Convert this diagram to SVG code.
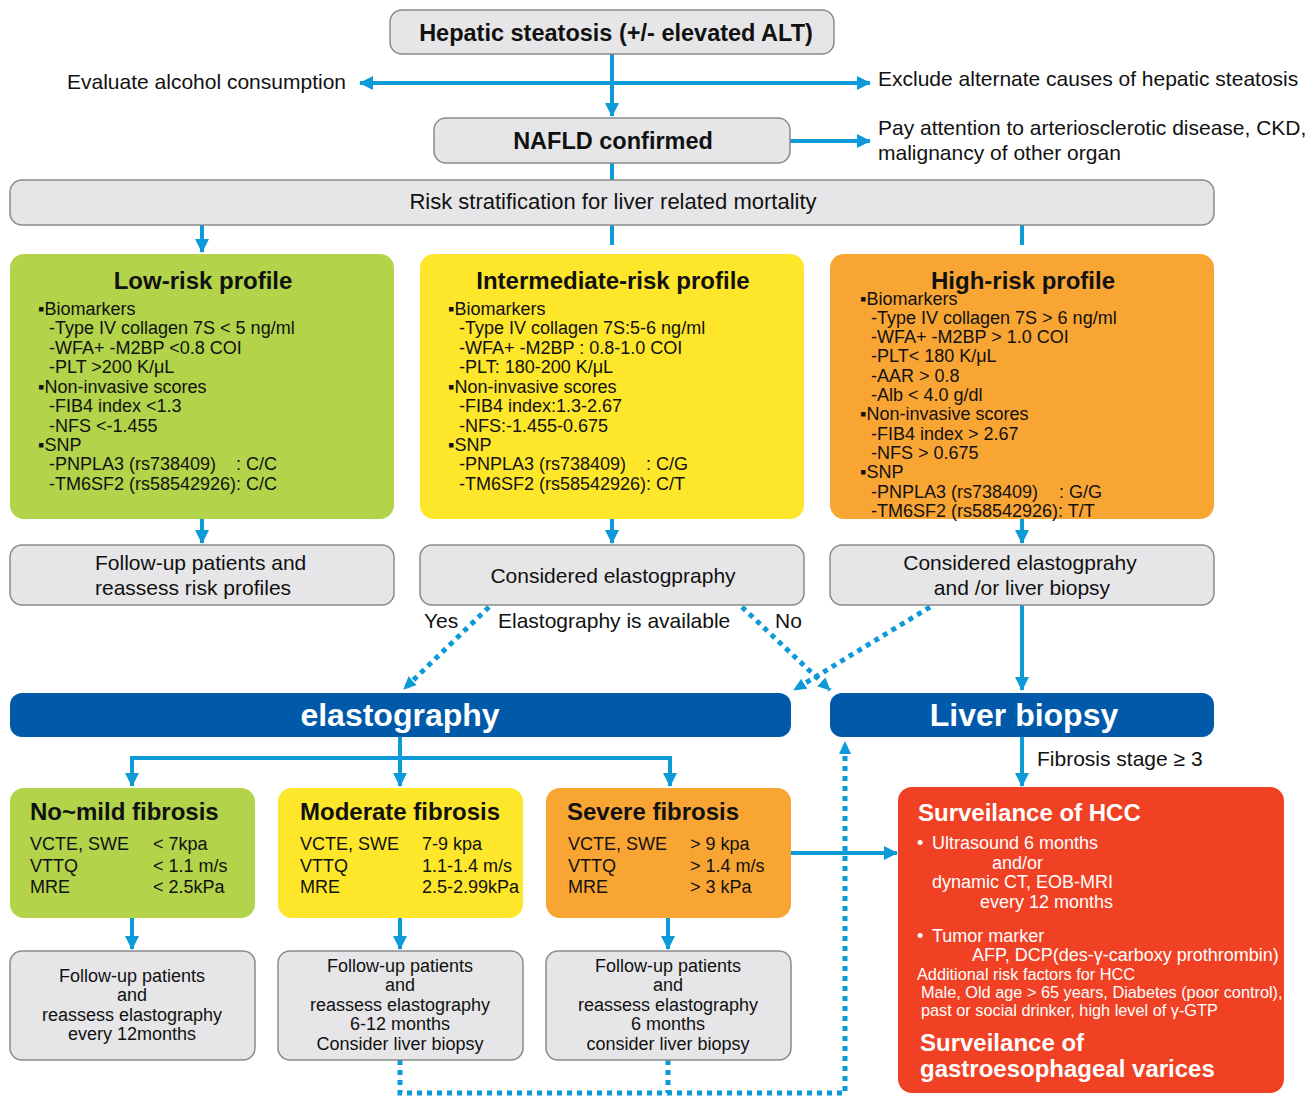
<svg xmlns="http://www.w3.org/2000/svg" width="1314" height="1096" viewBox="0 0 1314 1096">
<style>
text{font-family:"Liberation Sans",Arial,sans-serif;fill:#111}
.gbox{fill:#e6e6e8;stroke:#8a8a8a;stroke-width:1.5}
.t24b{font-size:24px;font-weight:bold}
.t21{font-size:21px}
.t18{font-size:18px}
.wh{fill:#fff}
.ln{stroke:#0d9ad8;stroke-width:4;fill:none}
.dt{stroke:#0d9ad8;stroke-width:5;fill:none;stroke-dasharray:5 5}
.mid{text-anchor:middle}
.big{font-size:32px;font-weight:bold;fill:#fff}
</style>
<defs>
<marker id="arr" markerUnits="userSpaceOnUse" markerWidth="16" markerHeight="16" refX="13" refY="8" orient="auto-start-reverse" viewBox="0 0 16 16">
<path d="M0,1 L14,8 L0,15 z" fill="#0d9ad8"/>
</marker>
<marker id="arrs" markerUnits="userSpaceOnUse" markerWidth="14" markerHeight="14" refX="12" refY="7" orient="auto" viewBox="0 0 14 14">
<path d="M0,1 L13,7 L0,13 z" fill="#0d9ad8"/>
</marker>
</defs>
<rect width="1314" height="1096" fill="#fff"/>

<g id="connectors">
<path class="ln" d="M612,54 V116" marker-end="url(#arr)"/>
<path class="ln" d="M360,83 H870" marker-start="url(#arr)" marker-end="url(#arr)"/>
<path class="ln" d="M790,141 H870" marker-end="url(#arr)"/>
<path class="ln" d="M612,163 V180"/>
<path class="ln" d="M202,225 V252" marker-end="url(#arr)"/>
<path class="ln" d="M612,225 V245"/>
<path class="ln" d="M1022,225 V245"/>
<path class="ln" d="M202,519 V543" marker-end="url(#arr)"/>
<path class="ln" d="M612,519 V543" marker-end="url(#arr)"/>
<path class="ln" d="M1022,519 V543" marker-end="url(#arr)"/>
<path class="dt" d="M489,607 L404,689" marker-end="url(#arrs)"/>
<path class="dt" d="M742,607 L830,690" marker-end="url(#arrs)"/>
<path class="dt" d="M930,607 L794,690" marker-end="url(#arrs)"/>
<path class="ln" d="M1022,605 V690" marker-end="url(#arr)"/>
<path class="ln" d="M400,737 V786" marker-end="url(#arr)"/>
<path class="ln" d="M132,786 V758 H670 V786" marker-end="url(#arr)"/>
<path class="ln" d="M132,758 V786" marker-end="url(#arr)"/>
<path class="ln" d="M1022,737 V786" marker-end="url(#arr)"/>
<path class="ln" d="M791,853 H897" marker-end="url(#arr)"/>
<path class="ln" d="M132,918 V949" marker-end="url(#arr)"/>
<path class="ln" d="M400,918 V949" marker-end="url(#arr)"/>
<path class="ln" d="M668,918 V949" marker-end="url(#arr)"/>
<path class="dt" d="M400,1060 V1093 H845 V742" marker-end="url(#arrs)"/>
<path class="dt" d="M668,1060 V1093"/>
</g>

<g id="n-hepatic">
<rect class="gbox" x="390" y="10" width="444" height="44" rx="12"/>
<text class="mid" x="616" y="41" style="font-size:23.5px;font-weight:bold">Hepatic steatosis (+/- elevated ALT)</text>
</g>
<g id="n-alcohol"><text class="t21" x="346" y="89" text-anchor="end">Evaluate alcohol consumption</text></g>
<g id="n-exclude"><text class="t21" x="878" y="86">Exclude alternate causes of hepatic steatosis</text></g>
<g id="n-nafld">
<rect class="gbox" x="434" y="118" width="356" height="45" rx="12"/>
<text class="mid" x="613" y="149" style="font-size:23.5px;font-weight:bold">NAFLD confirmed</text>
</g>
<g id="n-attention">
<text class="t21" x="878" y="135">Pay attention to arteriosclerotic disease, CKD,</text>
<text class="t21" x="878" y="160">malignancy of other organ</text>
</g>
<g id="n-risk">
<rect class="gbox" x="10" y="180" width="1204" height="45" rx="12"/>
<text class="mid" x="613" y="209" style="font-size:22px">Risk stratification for liver related mortality</text>
</g>

<g id="n-low">
<rect x="10" y="254" width="384" height="265" rx="14" fill="#b2d34a"/>
<text class="t24b mid" x="203" y="289">Low-risk profile</text>
<text class="t18">
<tspan x="38" y="315">▪Biomarkers</tspan>
<tspan x="49" y="334">-Type IV collagen 7S &lt; 5 ng/ml</tspan>
<tspan x="49" y="354">-WFA+ -M2BP &lt;0.8 COI</tspan>
<tspan x="49" y="373">-PLT &gt;200 K/μL</tspan>
<tspan x="38" y="393">▪Non-invasive scores</tspan>
<tspan x="49" y="412">-FIB4 index &lt;1.3</tspan>
<tspan x="49" y="432">-NFS &lt;-1.455</tspan>
<tspan x="38" y="451">▪SNP</tspan>
<tspan x="49" y="470">-PNPLA3 (rs738409)</tspan><tspan x="236" y="470">: C/C</tspan>
<tspan x="49" y="490">-TM6SF2 (rs58542926): C/C</tspan>
</text>
</g>

<g id="n-inter">
<rect x="420" y="254" width="384" height="265" rx="14" fill="#fee62a"/>
<text class="t24b mid" x="613" y="289">Intermediate-risk profile</text>
<text class="t18">
<tspan x="448" y="315">▪Biomarkers</tspan>
<tspan x="459" y="334">-Type IV collagen 7S:5-6 ng/ml</tspan>
<tspan x="459" y="354">-WFA+ -M2BP : 0.8-1.0 COI</tspan>
<tspan x="459" y="373">-PLT: 180-200 K/μL</tspan>
<tspan x="448" y="393">▪Non-invasive scores</tspan>
<tspan x="459" y="412">-FIB4 index:1.3-2.67</tspan>
<tspan x="459" y="432">-NFS:-1.455-0.675</tspan>
<tspan x="448" y="451">▪SNP</tspan>
<tspan x="459" y="470">-PNPLA3 (rs738409)</tspan><tspan x="646" y="470">: C/G</tspan>
<tspan x="459" y="490">-TM6SF2 (rs58542926): C/T</tspan>
</text>
</g>

<g id="n-high">
<rect x="830" y="254" width="384" height="265" rx="14" fill="#f9a534"/>
<text class="t24b mid" x="1023" y="289">High-risk profile</text>
<text class="t18">
<tspan x="860" y="305">▪Biomarkers</tspan>
<tspan x="871" y="324">-Type IV collagen 7S &gt; 6 ng/ml</tspan>
<tspan x="871" y="343">-WFA+ -M2BP &gt; 1.0 COI</tspan>
<tspan x="871" y="362">-PLT&lt; 180 K/μL</tspan>
<tspan x="871" y="382">-AAR &gt; 0.8</tspan>
<tspan x="871" y="401">-Alb &lt; 4.0 g/dl</tspan>
<tspan x="860" y="420">▪Non-invasive scores</tspan>
<tspan x="871" y="440">-FIB4 index &gt; 2.67</tspan>
<tspan x="871" y="459">-NFS &gt; 0.675</tspan>
<tspan x="860" y="478">▪SNP</tspan>
<tspan x="871" y="498">-PNPLA3 (rs738409)</tspan><tspan x="1059" y="498">: G/G</tspan>
<tspan x="871" y="517">-TM6SF2 (rs58542926): T/T</tspan>
</text>
</g>

<g id="n-follow-risk">
<rect class="gbox" x="10" y="545" width="384" height="60" rx="12"/>
<text class="t21" x="95" y="570">Follow-up patients and</text>
<text class="t21" x="95" y="595">reassess risk profiles</text>
</g>
<g id="n-consider-elasto">
<rect class="gbox" x="420" y="545" width="384" height="60" rx="12"/>
<text class="t21 mid" x="613" y="583">Considered elastogpraphy</text>
</g>
<g id="n-consider-biopsy">
<rect class="gbox" x="830" y="545" width="384" height="60" rx="12"/>
<text class="t21 mid" x="1020" y="570">Considered elastogprahy</text>
<text class="t21 mid" x="1022" y="595">and /or liver biopsy</text>
</g>
<g id="labels-avail">
<text class="t21" x="424" y="628">Yes</text>
<text class="t21" x="498" y="628">Elastography is available</text>
<text class="t21" x="775" y="628">No</text>
</g>

<g id="n-elastography">
<rect x="10" y="693" width="781" height="44" rx="12" fill="#005aa9"/>
<text class="mid big" x="400" y="726">elastography</text>
</g>
<g id="n-biopsy">
<rect x="830" y="693" width="384" height="44" rx="12" fill="#005aa9"/>
<text class="mid big" x="1024" y="726">Liver biopsy</text>
</g>
<g id="label-fibrosis"><text class="t21" x="1037" y="766">Fibrosis stage ≥ 3</text></g>

<g id="n-nomild">
<rect x="10" y="788" width="245" height="130" rx="14" fill="#b2d34a"/>
<text class="t24b" x="30" y="820">No~mild fibrosis</text>
<text class="t18"><tspan x="30" y="850">VCTE, SWE</tspan><tspan x="153" y="850">&lt; 7kpa</tspan>
<tspan x="30" y="872">VTTQ</tspan><tspan x="153" y="872">&lt; 1.1 m/s</tspan>
<tspan x="30" y="893">MRE</tspan><tspan x="153" y="893">&lt; 2.5kPa</tspan></text>
</g>
<g id="n-moderate">
<rect x="278" y="788" width="245" height="130" rx="14" fill="#fee62a"/>
<text class="t24b" x="300" y="820">Moderate fibrosis</text>
<text class="t18"><tspan x="300" y="850">VCTE, SWE</tspan><tspan x="422" y="850">7-9 kpa</tspan>
<tspan x="300" y="872">VTTQ</tspan><tspan x="422" y="872">1.1-1.4 m/s</tspan>
<tspan x="300" y="893">MRE</tspan><tspan x="422" y="893">2.5-2.99kPa</tspan></text>
</g>
<g id="n-severe">
<rect x="546" y="788" width="245" height="130" rx="14" fill="#f9a534"/>
<text class="t24b" x="567" y="820">Severe fibrosis</text>
<text class="t18"><tspan x="568" y="850">VCTE, SWE</tspan><tspan x="690" y="850">&gt; 9 kpa</tspan>
<tspan x="568" y="872">VTTQ</tspan><tspan x="690" y="872">&gt; 1.4 m/s</tspan>
<tspan x="568" y="893">MRE</tspan><tspan x="690" y="893">&gt; 3 kPa</tspan></text>
</g>

<g id="n-fu1">
<rect class="gbox" x="10" y="951" width="245" height="109" rx="12"/>
<text class="t18 mid"><tspan x="132" y="982">Follow-up patients</tspan><tspan x="132" y="1001">and</tspan><tspan x="132" y="1021">reassess elastography</tspan><tspan x="132" y="1040">every 12months</tspan></text>
</g>
<g id="n-fu2">
<rect class="gbox" x="278" y="951" width="245" height="109" rx="12"/>
<text class="t18 mid"><tspan x="400" y="972">Follow-up patients</tspan><tspan x="400" y="991">and</tspan><tspan x="400" y="1011">reassess elastography</tspan><tspan x="400" y="1030">6-12 months</tspan><tspan x="400" y="1050">Consider liver biopsy</tspan></text>
</g>
<g id="n-fu3">
<rect class="gbox" x="546" y="951" width="245" height="109" rx="12"/>
<text class="t18 mid"><tspan x="668" y="972">Follow-up patients</tspan><tspan x="668" y="991">and</tspan><tspan x="668" y="1011">reassess elastography</tspan><tspan x="668" y="1030">6 months</tspan><tspan x="668" y="1050">consider liver biopsy</tspan></text>
</g>

<g id="n-hcc">
<rect x="898" y="787" width="386" height="306" rx="14" fill="#f04124"/>
<text class="t24b wh" x="918" y="821">Surveilance of HCC</text>
<text class="t18 wh">
<tspan x="917" y="849">•</tspan><tspan x="932" y="849">Ultrasound 6 months</tspan>
<tspan x="992" y="869">and/or</tspan>
<tspan x="932" y="888">dynamic CT, EOB-MRI</tspan>
<tspan x="980" y="908">every 12 months</tspan>
<tspan x="917" y="942">•</tspan><tspan x="932" y="942">Tumor marker</tspan>
<tspan x="972" y="961">AFP, DCP(des-γ-carboxy prothrombin)</tspan>
</text>
<text class="wh" style="font-size:16.3px">
<tspan x="917" y="980">Additional risk factors for HCC</tspan>
<tspan x="921" y="998">Male, Old age &gt; 65 years, Diabetes (poor control),</tspan>
<tspan x="921" y="1016">past or social drinker, high level of γ-GTP</tspan>
</text>
<text class="t24b wh"><tspan x="920" y="1051">Surveilance of</tspan><tspan x="920" y="1077">gastroesophageal varices</tspan></text>
</g>
</svg>
